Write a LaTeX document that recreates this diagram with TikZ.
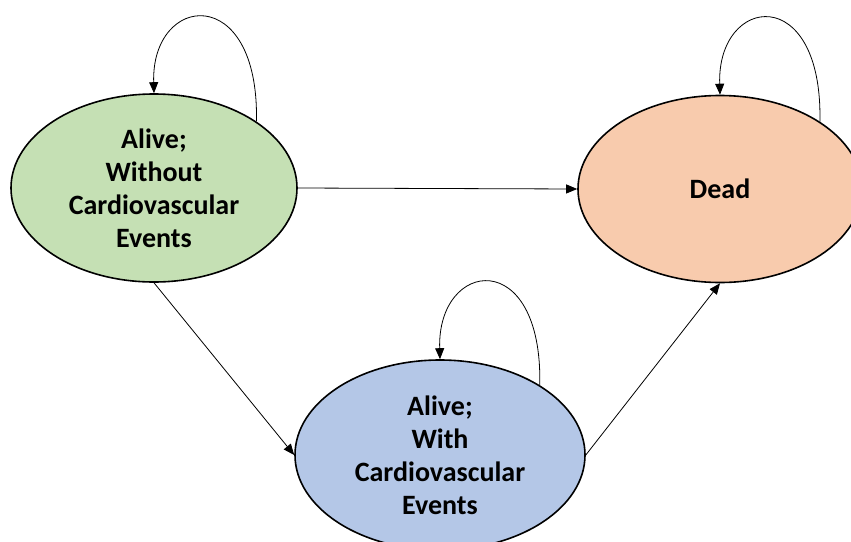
\documentclass[tikz,border=0pt]{standalone}
\usepackage{fontspec}
\setmainfont{Carlito}
\usetikzlibrary{shapes.geometric,arrows.meta}
\definecolor{stgreen}{HTML}{C5E0B4}
\definecolor{storange}{HTML}{F8CBAD}
\definecolor{stblue}{HTML}{B4C7E7}
\begin{document}
\begin{tikzpicture}[x=1pt,y=-1pt,
  state/.style={ellipse,draw=black,line width=1.6pt,inner sep=0pt,align=center,
    font=\fontsize{28}{33}\selectfont\bfseries},
  conn/.style={line width=0.8pt,-{Triangle[length=11pt,width=9pt]}}]
\clip (0,0) rectangle (851,541);
\fill[white] (0,0) rectangle (851,541);
\node[state,fill=stgreen,minimum width=286pt,minimum height=188pt] (green) at (154,188)
  {Alive;\\Without\\Cardiovascular\\Events};
\node[state,fill=storange,minimum width=284pt,minimum height=187pt] (dead) at (720,189)
  {Dead};
\node[state,fill=stblue,minimum width=290pt,minimum height=190pt] (blue) at (440,455)
  {Alive;\\With\\Cardiovascular\\Events};
\draw[conn] (green.33) .. controls +(3,-140) and +(-3,-100) .. (green.north);
\draw[conn] (dead.34) .. controls +(3,-140) and +(-3,-100) .. (dead.north);
\draw[conn] (blue.35) .. controls +(3,-140) and +(-3,-100) .. (blue.north);
\draw[conn] (green.east) -- (dead.west);
\draw[conn] (green.south) -- (blue.west);
\draw[conn] (blue.east) -- (dead.south);
\end{tikzpicture}
\end{document}
